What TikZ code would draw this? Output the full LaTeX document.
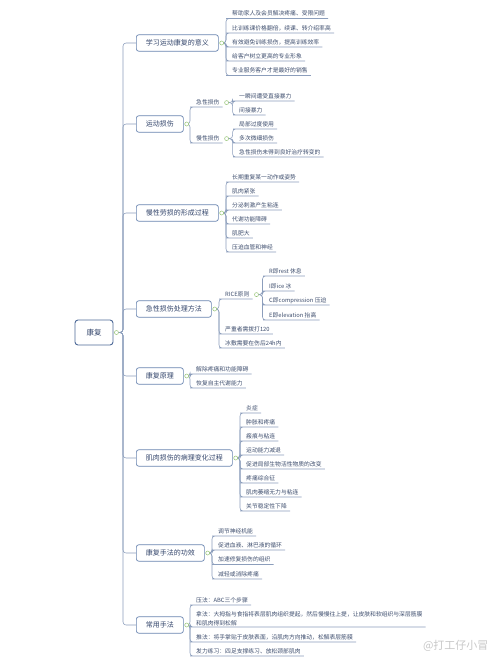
\documentclass[tikz,border=0pt]{standalone}
\usepackage{fontspec}
\setmainfont{Noto Sans CJK SC}
\usetikzlibrary{calc}
\definecolor{boxc}{RGB}{105,133,176}
\definecolor{rootc}{RGB}{78,106,152}
\definecolor{linec}{RGB}{140,158,188}
\definecolor{knobc}{RGB}{150,196,118}
\definecolor{txtc}{RGB}{52,70,108}
\definecolor{leafc}{RGB}{62,78,110}
\definecolor{wmc}{RGB}{200,200,200}
\tikzset{
  rootbox/.style={draw=rootc, line width=0.9pt, rounded corners=3pt, fill=white,
    font=\fontsize{7.5}{9}\selectfont, text=txtc, minimum width=38pt, minimum height=25pt},
  box/.style={draw=boxc, line width=0.7pt, rounded corners=2.5pt, fill=white,
    font=\fontsize{7}{8}\selectfont, text=txtc, minimum height=16.5pt, inner xsep=9.5pt, anchor=west},
  leafbase/.style={font=\fontsize{5.8}{8.6}\selectfont, text=leafc, inner xsep=3pt, inner ysep=1.2pt, anchor=south west},
  leaf/.style={leafbase, text height=4.8pt, text depth=1.2pt},
  conn/.style={draw=linec, line width=0.55pt, rounded corners=3pt},
  knob/.style={circle, draw=knobc, fill=white, line width=0.5pt, inner sep=0pt, minimum size=4pt},
}
\begin{document}
\begin{tikzpicture}[x=1pt,y=-1pt]
\useasboundingbox (0,0) rectangle (500,666);
\fill[white] (0,0) rectangle (500,666);

% root
\node[rootbox] (root) at (94,332.5) {康复};
\coordinate (tr) at (123,332.5);

% level-1 boxes
\node[box] (m1) at (136,43) {学习运动康复的意义};
\node[box] (m2) at (136,124) {运动损伤};
\node[box] (m3) at (136,213) {慢性劳损的形成过程};
\node[box] (m4) at (136,309) {急性损伤处理方法};
\node[box] (m5) at (136,376) {康复原理};
\node[box] (m6) at (136,458) {肌肉损伤的病理变化过程};
\node[box] (m7) at (136,553) {康复手法的功效};
\node[box] (m8) at (136,625) {常用手法};

% knobs positions
\coordinate (rk) at ($(root.east)+(3,0)$);
\foreach \i in {1,...,8} { \coordinate (k\i) at ($(m\i.east)+(3,0)$); }

% branch 1 leaves
\node[leaf] (a11) at (229,18.5) {帮助家人及会员解决疼痛、受限问题};
\node[leaf] (a12) at (229,33) {比训练课价格翻倍，续课、转介绍率高};
\node[leaf] (a13) at (229,47) {有效避免训练损伤，提高训练效率};
\node[leaf] (a14) at (229,61) {给客户树立更高的专业形象};
\node[leaf] (a15) at (229,75.5) {专业服务客户才是最好的销售};

% branch 2
\node[leaf] (b21) at (193,107) {急性损伤};
\node[leaf] (b22) at (193,143) {慢性损伤};
\coordinate (kb21) at ($(b21.east)+(4,0)$);
\coordinate (kb22) at ($(b22.east)+(4,0)$);
\node[leaf] (c211) at (236,101) {一瞬间遭受直接暴力};
\node[leaf] (c212) at (236,115) {间接暴力};
\node[leaf] (c221) at (236,129) {局部过度使用};
\node[leaf] (c222) at (236,143) {多次微细损伤};
\node[leaf] (c223) at (236,157) {急性损伤未得到良好治疗转变的};

% branch 3
\node[leaf] (a31) at (229,182) {长期重复某一动作或姿势};
\node[leaf] (a32) at (229,196) {肌肉紧张};
\node[leaf] (a33) at (229,210) {分泌刺激产生粘连};
\node[leaf] (a34) at (229,224) {代谢功能障碍};
\node[leaf] (a35) at (229,238) {肌肥大};
\node[leaf] (a36) at (229,252) {压迫血管和神经};

% branch 4
\node[leaf] (b41) at (222,299) {RICE原则};
\coordinate (kb41) at ($(b41.east)+(4,0)$);
\node[leaf] (c411) at (266,276) {R即rest 休息};
\node[leaf] (c412) at (266,291) {I即ice 冰};
\node[leaf] (c413) at (266,305) {C即compression 压迫};
\node[leaf] (c414) at (266,320) {E即elevation 抬高};
\node[leaf] (b42) at (222,334) {严重者需拨打120};
\node[leaf] (b43) at (222,348) {冰敷需要在伤后24h内};

% branch 5
\node[leaf] (a51) at (193,374) {解除疼痛和功能障碍};
\node[leaf] (a52) at (193,388) {恢复自主代谢能力};

% branch 6
\node[leaf] (a61) at (243,413) {炎症};
\node[leaf] (a62) at (243,427) {肿胀和疼痛};
\node[leaf] (a63) at (243,441) {瘢痕与粘连};
\node[leaf] (a64) at (243,455) {运动能力减退};
\node[leaf] (a65) at (243,469) {促进局部生物活性物质的改变};
\node[leaf] (a66) at (243,483) {疼痛综合征};
\node[leaf] (a67) at (243,497) {肌肉萎缩无力与粘连};
\node[leaf] (a68) at (243,511) {关节稳定性下降};

% branch 7
\node[leaf] (a71) at (215,536) {调节神经机能};
\node[leaf] (a72) at (215,550) {促进血液、淋巴液的循环};
\node[leaf] (a73) at (215,564.5) {加速修复损伤的组织};
\node[leaf] (a74) at (215,579) {减轻或消除疼痛};

% branch 8
\node[leaf] (a81) at (193,605) {压法：ABC三个步骤};
\node[leafbase, align=left] (a82) at (193,627) {拿法：大拇指与食指将表层肌肉组织提起，然后慢慢往上提，让皮肤和软组织与深层筋膜\\和肌肉得到松解};
\node[leaf] (a83) at (193,642) {推法：将手掌贴于皮肤表面，沿肌肉方向推动，松解表层筋膜};
\node[leaf] (a84) at (193,656) {发力练习：四足支撑练习、放松颈部肌肉};

% ---------- connectors ----------
% trunk
\foreach \i in {1,...,8} { \draw[conn] (rk) -- (tr) |- (m\i.west); }

% branch 1
\coordinate (v1) at (226,43);
\foreach \j in {1,...,5} { \draw[conn] (k1) -- (v1) |- (a1\j.south west) -- (a1\j.south east); }
% branch 2
\coordinate (v2) at (190,124);
\foreach \j in {1,2} { \draw[conn] (k2) -- (v2) |- (b2\j.south west) -- (b2\j.south east); }
\coordinate (v21) at ($(kb21)+(6,0)$);
\foreach \j in {1,2} { \draw[conn] (kb21) -- (v21) |- (c21\j.south west) -- (c21\j.south east); }
\coordinate (v22) at ($(kb22)+(6,0)$);
\foreach \j in {1,2,3} { \draw[conn] (kb22) -- (v22) |- (c22\j.south west) -- (c22\j.south east); }
% branch 3
\coordinate (v3) at (226,213);
\foreach \j in {1,...,6} { \draw[conn] (k3) -- (v3) |- (a3\j.south west) -- (a3\j.south east); }
% branch 4
\coordinate (v4) at (219,309);
\foreach \j in {1,2,3} { \draw[conn] (k4) -- (v4) |- (b4\j.south west) -- (b4\j.south east); }
\coordinate (v41) at ($(kb41)+(6,0)$);
\foreach \j in {1,...,4} { \draw[conn] (kb41) -- (v41) |- (c41\j.south west) -- (c41\j.south east); }
% branch 5
\coordinate (v5) at (190,376);
\foreach \j in {1,2} { \draw[conn] (k5) -- (v5) |- (a5\j.south west) -- (a5\j.south east); }
% branch 6
\coordinate (v6) at (240,458);
\foreach \j in {1,...,8} { \draw[conn] (k6) -- (v6) |- (a6\j.south west) -- (a6\j.south east); }
% branch 7
\coordinate (v7) at (212,553);
\foreach \j in {1,...,4} { \draw[conn] (k7) -- (v7) |- (a7\j.south west) -- (a7\j.south east); }
% branch 8
\coordinate (v8) at (190,625);
\foreach \j in {1,...,4} { \draw[conn] (k8) -- (v8) |- (a8\j.south west) -- (a8\j.south east); }

% knobs on top
\node[knob] (rkn) at (rk) {};
\foreach \i in {1,...,8} { \node[knob] (kn\i) at (k\i) {}; }
\node[knob] (knb21) at (kb21) {};
\node[knob] (knb22) at (kb22) {};
\node[knob] (knb41) at (kb41) {};

% watermark
\node[font=\fontsize{11}{12}\selectfont, text=wmc, anchor=east] (wm) at (492,646) {@打工仔小冒};
\end{tikzpicture}
\end{document}
